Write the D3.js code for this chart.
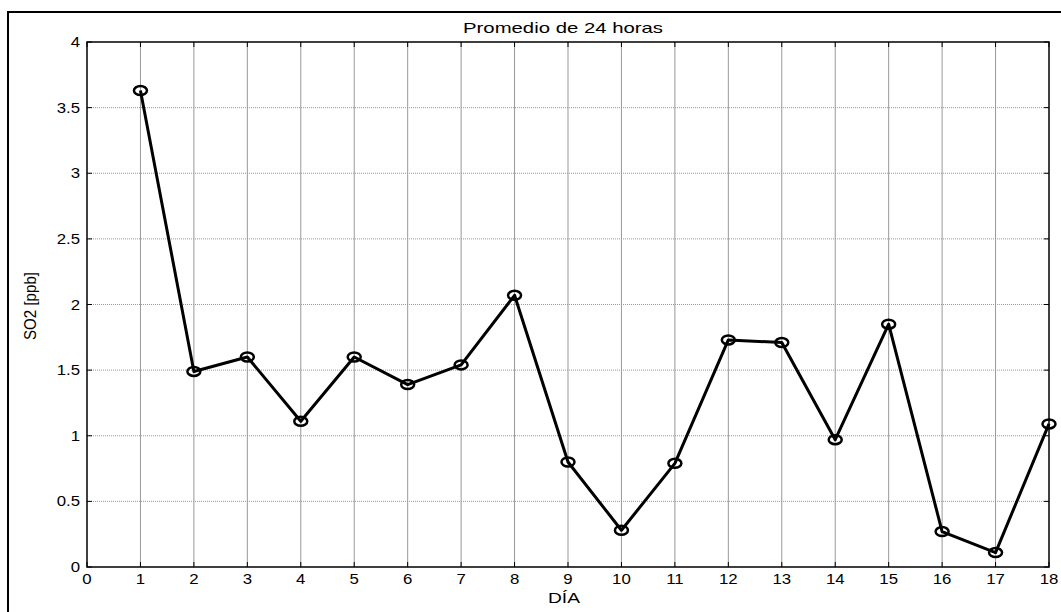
<!DOCTYPE html>
<html>
<head>
<meta charset="utf-8">
<script src="https://cdn.jsdelivr.net/npm/d3@7"></script>
<style>
  body { margin: 0; background: #fff; }
  text { font-family: "Liberation Sans", Arial, sans-serif; fill: #000; }
</style>
</head>
<body>
<script>
// datos
var dias = [1, 2, 3, 4, 5, 6, 7, 8, 9, 10, 11, 12, 13, 14, 15, 16, 17, 18];
var so2 = [3.63, 1.49, 1.60, 1.11, 1.60, 1.39, 1.54, 2.07, 0.80, 0.28, 0.79, 1.73, 1.71, 0.97, 1.85, 0.27, 0.11, 1.09];
var xTicks = d3.range(0, 19);
var yTicks = [0, 0.5, 1, 1.5, 2, 2.5, 3, 3.5, 4];
var titulo = "Promedio de 24 horas";
var xLabel = "DÍA";
var yLabel = "SO2 [ppb]";

var W = 1061, H = 612;
var mLeft = 87, mRight = 1049, mTop = 42, mBottom = 567;
var sx = 1.2; // texto algo ancho en el original

var svg = d3.select("body").append("svg").attr("width", W).attr("height", H);

// marco exterior
svg.append("rect").attr("x", 8).attr("y", 12).attr("width", 1070).attr("height", 620)
  .attr("fill", "none").attr("stroke", "#000").attr("stroke-width", 2);

var x = d3.scaleLinear().domain([0, 18]).range([mLeft, mRight]);
var y = d3.scaleLinear().domain([0, 4]).range([mBottom, mTop]);

// grilla
svg.append("g").selectAll("line").data(xTicks.slice(1, -1)).enter().append("line")
  .attr("x1", d => x(d)).attr("x2", d => x(d)).attr("y1", mTop).attr("y2", mBottom)
  .attr("stroke", "#999").attr("stroke-width", 1);
svg.append("g").selectAll("line").data(yTicks.slice(1, -1)).enter().append("line")
  .attr("x1", mLeft).attr("x2", mRight).attr("y1", d => y(d)).attr("y2", d => y(d))
  .attr("stroke", "#999").attr("stroke-width", 1).attr("stroke-dasharray", "1,1");

// ticks hacia adentro
var tk = svg.append("g").attr("stroke", "#000").attr("stroke-width", 1);
xTicks.forEach(function(d) {
  tk.append("line").attr("x1", x(d)).attr("x2", x(d)).attr("y1", mBottom).attr("y2", mBottom - 5);
  tk.append("line").attr("x1", x(d)).attr("x2", x(d)).attr("y1", mTop).attr("y2", mTop + 5);
});
yTicks.forEach(function(d) {
  tk.append("line").attr("x1", mLeft).attr("x2", mLeft + 5).attr("y1", y(d)).attr("y2", y(d));
  tk.append("line").attr("x1", mRight).attr("x2", mRight - 5).attr("y1", y(d)).attr("y2", y(d));
});

// caja de ejes
svg.append("rect").attr("x", mLeft).attr("y", mTop).attr("width", mRight - mLeft).attr("height", mBottom - mTop)
  .attr("fill", "none").attr("stroke", "#000").attr("stroke-width", 1.5);

// etiquetas de ticks
svg.append("g").selectAll("text").data(xTicks).enter().append("text")
  .attr("transform", d => "translate(" + x(d) + ",584) scale(" + sx + ",1)")
  .attr("text-anchor", "middle").attr("font-size", 14).text(d => d);
svg.append("g").selectAll("text").data(yTicks).enter().append("text")
  .attr("transform", d => "translate(80," + (y(d) + 5) + ") scale(" + sx + ",1)")
  .attr("text-anchor", "end").attr("font-size", 14).text(d => d);

// titulos
svg.append("text").attr("x", 563).attr("y", 33).attr("text-anchor", "middle")
  .attr("font-size", 15).attr("textLength", 200).attr("lengthAdjust", "spacingAndGlyphs").text(titulo);
svg.append("text").attr("x", 564).attr("y", 603).attr("text-anchor", "middle")
  .attr("font-size", 14).attr("textLength", 32).attr("lengthAdjust", "spacingAndGlyphs").text(xLabel);
svg.append("text").attr("transform", "translate(36,306) rotate(-90)").attr("text-anchor", "middle")
  .attr("font-size", 16).attr("textLength", 68).attr("lengthAdjust", "spacingAndGlyphs").text(yLabel);

// serie
var pts = dias.map((d, i) => [d, so2[i]]);
svg.append("path").datum(pts)
  .attr("d", d3.line().x(d => x(d[0])).y(d => y(d[1])))
  .attr("fill", "none").attr("stroke", "#000").attr("stroke-width", 3).attr("stroke-linejoin", "round");
svg.append("g").selectAll("ellipse").data(pts).enter().append("ellipse")
  .attr("cx", d => x(d[0])).attr("cy", d => y(d[1])).attr("rx", 6.5).attr("ry", 4.5)
  .attr("fill", "none").attr("stroke", "#000").attr("stroke-width", 2.5);
</script>
</body>
</html>
